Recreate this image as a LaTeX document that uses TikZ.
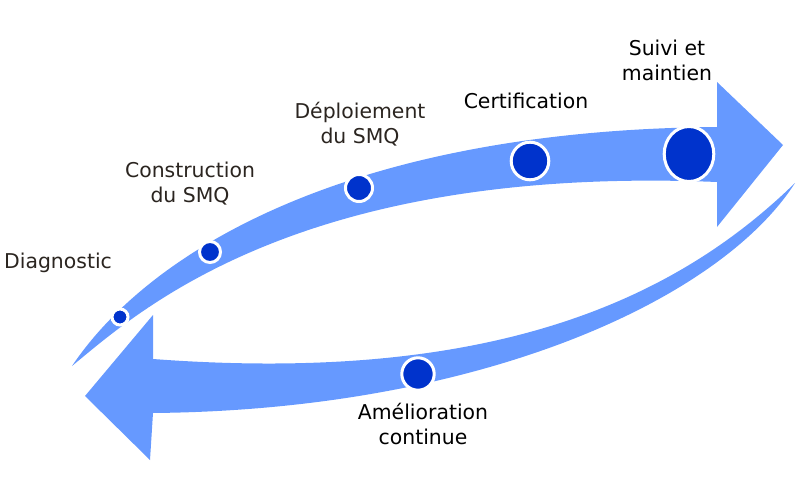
\documentclass[tikz,border=0pt]{standalone}
\usepackage{fontspec}
\setmainfont{DejaVu Sans}
\usepackage{tikz}
\usetikzlibrary{shapes.geometric}
\definecolor{SMQLight}{HTML}{6699FF}
\definecolor{SMQDark}{HTML}{0033CC}
\definecolor{SMQText}{HTML}{2B2520}
\tikzset{
    bandarrow/.style={fill=SMQLight, draw=none},
    stepdot/.style={circle, fill=SMQDark, draw=white, line width=3pt, inner sep=0pt},
    stepoval/.style={ellipse, fill=SMQDark, draw=white, line width=3pt, inner sep=0pt},
    steplabel/.style={align=center, inner sep=0pt, anchor=north, font=\fontsize{20.4}{25}\selectfont},
}

\begin{document}
\begin{tikzpicture}[x=1pt, y=-1pt]
    \useasboundingbox (0,0) rectangle (800,500);
    % upper arrow
    \fill[bandarrow] (72,366) .. controls (150,250) and (350,130) .. (717,127)
        -- (717,82) -- (783,145) -- (717,227) -- (717,182)
        .. controls (300,165) and (140,310) .. (72,366) -- cycle;
    % lower arrow
    \fill[bandarrow] (795,183) .. controls (680,295) and (500,385) .. (153,359)
        -- (153,315) -- (85,396) -- (150,460) -- (153,413)
        .. controls (480,410) and (720,300) .. (795,183) -- cycle;

    \node[stepdot, minimum size=16] (diag) at (120,317) {};
    \node[stepdot, minimum size=21] (constr) at (210,252) {};
    \node[stepdot, minimum size=27] (deploi) at (359,188) {};
    \node[stepdot, minimum size=37.6] (certif) at (530,161) {};
    \node[stepoval, minimum width=49.6, minimum height=55] (suivi) at (689,154) {};
    \node[stepdot, minimum size=32.4] (amelio) at (418,374) {};

    \node[steplabel, text=SMQText] (diaglabel) at (58,253) {Diagnostic};
    \node[steplabel, text=SMQText] (constrlabel) at (190,162) {Construction\\du SMQ};
    \node[steplabel, text=SMQText] (deploilabel) at (360,102) {Déploiement\\du SMQ};
    \node[steplabel] (certiflabel) at (526,93) {Certification};
    \node[steplabel] (suivilabel) at (667,40) {Suivi et\\maintien};
    \node[steplabel] (ameliolabel) at (423,403) {Amélioration\\continue};
\end{tikzpicture}
\end{document}
